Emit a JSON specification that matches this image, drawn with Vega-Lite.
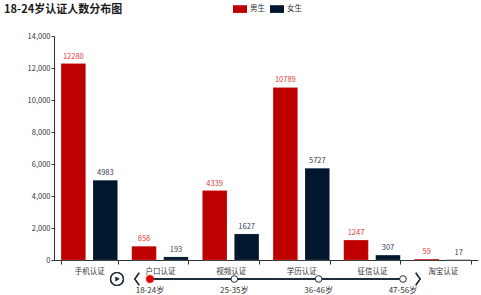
{
  "$schema": "https://vega.github.io/schema/vega-lite/v6.json",
  "padding": {"left": 4, "top": 2, "right": 4, "bottom": 0},
  "title": {"text": "18-24岁认证人数分布图", "anchor": "start", "fontSize": 11, "fontWeight": "bold", "color": "#1a1a1a", "offset": -11, "dx": -23, "dy": 2, "frame": "bounds"},
  "config": {
    "font": "Noto Sans CJK SC",
    "view": {"stroke": null},
    "axis": {"labelFont": "Noto Sans CJK SC", "labelFontSize": 7.5, "labelColor": "#333333", "domainColor": "#333333", "tickColor": "#333333", "tickSize": 3, "grid": false, "title": null}
  },
  "spacing": -6,
  "vconcat": [
    {
      "width": 424,
      "height": 224,
      "data": {"values": [
        {"cat": "手机认证", "sex": "男生", "count": 12280},
        {"cat": "手机认证", "sex": "女生", "count": 4983},
        {"cat": "户口认证", "sex": "男生", "count": 858},
        {"cat": "户口认证", "sex": "女生", "count": 193},
        {"cat": "视频认证", "sex": "男生", "count": 4339},
        {"cat": "视频认证", "sex": "女生", "count": 1627},
        {"cat": "学历认证", "sex": "男生", "count": 10789},
        {"cat": "学历认证", "sex": "女生", "count": 5727},
        {"cat": "征信认证", "sex": "男生", "count": 1247},
        {"cat": "征信认证", "sex": "女生", "count": 307},
        {"cat": "淘宝认证", "sex": "男生", "count": 59},
        {"cat": "淘宝认证", "sex": "女生", "count": 17}
      ]},
      "encoding": {
        "x": {"field": "cat", "type": "nominal", "sort": null, "scale": {"paddingInner": 0.2, "paddingOuter": 0.1}, "axis": {"labelAngle": 0, "tickBand": "extent", "tickSize": 4, "labelPadding": 3, "labelFontSize": 7.5}},
        "xOffset": {"field": "sex", "type": "nominal", "sort": ["男生", "女生"], "scale": {"paddingInner": 0.23}},
        "y": {"field": "count", "type": "quantitative", "scale": {"domain": [0, 14000]}, "axis": {"values": [0, 2000, 4000, 6000, 8000, 10000, 12000, 14000], "format": ",d", "labelPadding": 1}}
      },
      "layer": [
        {
          "mark": {"type": "bar", "stroke": "#ffffff", "strokeOpacity": 0.3, "strokeWidth": 0.5},
          "encoding": {
            "color": {"field": "sex", "type": "nominal", "sort": ["男生", "女生"], "scale": {"domain": ["男生", "女生"], "range": ["#bf0000", "#00172e"]},
              "legend": {"title": null, "orient": "none", "direction": "horizontal", "legendX": 179, "legendY": -34, "symbolType": "M-1,-0.55 L1,-0.55 L1,0.55 L-1,0.55 Z", "symbolSize": 196, "symbolStrokeWidth": 0, "labelFontSize": 7.5, "labelColor": "#333333", "columnPadding": 5, "labelOffset": 3}}
          }
        },
        {
          "mark": {"type": "text", "dy": -7, "fontSize": 7.5},
          "encoding": {
            "text": {"field": "count", "type": "quantitative", "format": "d"},
            "color": {"condition": {"test": "datum.sex === '男生'", "value": "#e03a3a"}, "value": "#34404f"}
          }
        }
      ]
    },
    {
      "width": 424,
      "height": 20,
      "data": {"values": [
        {"age": "18-24岁", "i": 0, "current": true},
        {"age": "25-35岁", "i": 1, "current": false},
        {"age": "36-46岁", "i": 2, "current": false},
        {"age": "47-56岁", "i": 3, "current": false}
      ]},
      "layer": [
        {
          "mark": {"type": "rule", "color": "#1f2d3d", "strokeWidth": 1.5},
          "encoding": {
            "x": {"datum": 0, "type": "quantitative", "scale": {"domain": [-1.138, 3.89], "nice": false, "zero": false}, "axis": null},
            "x2": {"datum": 3},
            "y": {"datum": 0.8, "type": "quantitative", "scale": {"domain": [0, 1], "nice": false}, "axis": null}
          }
        },
        {
          "transform": [{"filter": "datum.current"}],
          "mark": {"type": "point", "filled": true, "color": "#e05050", "opacity": 0.35, "size": 95},
          "encoding": {
            "x": {"field": "i", "type": "quantitative"},
            "y": {"datum": 0.8, "type": "quantitative"}
          }
        },
        {
          "mark": {"type": "point", "filled": true, "strokeWidth": 1, "stroke": "#1f2d3d"},
          "encoding": {
            "x": {"field": "i", "type": "quantitative"},
            "y": {"datum": 0.8, "type": "quantitative"},
            "fill": {"condition": {"test": "datum.current", "value": "#e00000"}, "value": "#ffffff"},
            "strokeOpacity": {"condition": {"test": "datum.current", "value": 0}, "value": 1},
            "size": {"condition": {"test": "datum.current", "value": 55}, "value": 45},
            "opacity": {"value": 1}
          }
        },
        {
          "mark": {"type": "text", "fontSize": 8, "color": "#333333", "dy": 12},
          "encoding": {
            "x": {"field": "i", "type": "quantitative"},
            "y": {"datum": 0.8, "type": "quantitative"},
            "text": {"field": "age"}
          }
        },
        {
          "mark": {"type": "point", "filled": false, "stroke": "#1f2d3d", "strokeWidth": 1.2, "size": 170, "shape": "circle"},
          "encoding": {"x": {"datum": -0.391, "type": "quantitative"}, "y": {"datum": 0.8, "type": "quantitative"}}
        },
        {
          "mark": {"type": "point", "filled": true, "color": "#1f2d3d", "size": 20, "shape": "triangle-right"},
          "encoding": {"x": {"datum": -0.385, "type": "quantitative"}, "y": {"datum": 0.8, "type": "quantitative"}}
        },
        {
          "mark": {"type": "point", "filled": false, "stroke": "#1f2d3d", "strokeWidth": 1.3, "size": 150, "shape": "M0.35,-1 L-0.35,0 L0.35,1"},
          "encoding": {"x": {"datum": -0.154, "type": "quantitative"}, "y": {"datum": 0.8, "type": "quantitative"}}
        },
        {
          "mark": {"type": "point", "filled": false, "stroke": "#1f2d3d", "strokeWidth": 1.3, "size": 150, "shape": "M-0.35,-1 L0.35,0 L-0.35,1"},
          "encoding": {"x": {"datum": 3.178, "type": "quantitative"}, "y": {"datum": 0.8, "type": "quantitative"}}
        }
      ]
    }
  ]
}
